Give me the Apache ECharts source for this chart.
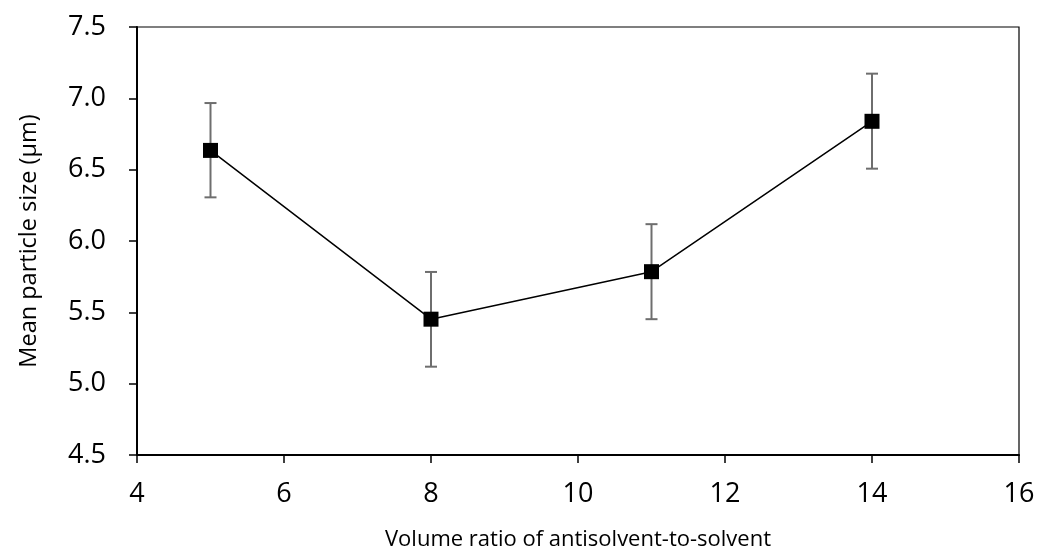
<!DOCTYPE html>
<html><head><meta charset="utf-8">
<script src="https://cdn.jsdelivr.net/npm/echarts@6/dist/echarts.min.js"></script>
<style>html,body{margin:0;padding:0;background:#fff}#c{width:1038px;height:555px}</style>
</head><body><div id="c"></div>
<script>
const ratios = [5, 8, 11, 14];
const meanSize = [6.635, 5.452, 5.785, 6.839];
const errLow = [6.306, 5.119, 5.452, 6.507];
const errHigh = [6.967, 5.783, 6.118, 7.173];
const xTitle = 'Volume ratio of antisolvent-to-solvent';
const yTitle = 'Mean particle size (μm)';

const font = 'Open Sans, Liberation Sans, sans-serif';
const chart = echarts.init(document.getElementById('c'), null, {renderer: 'canvas'});
chart.setOption({
  animation: false,
  backgroundColor: '#fff',
  grid: {left: 137, right: 19, top: 27, bottom: 100, show: true, borderColor: '#000', borderWidth: 1.2,
         containLabel: false, outerBoundsMode: 'none'},
  xAxis: {
    type: 'value', min: 4, max: 16, interval: 2,
    name: xTitle, nameLocation: 'middle', nameGap: 74,
    nameTextStyle: {fontFamily: font, fontSize: 22, color: '#000'},
    axisLine: {show: true, onZero: false, lineStyle: {color: '#000', width: 2}},
    axisTick: {show: true, length: 8, lineStyle: {color: '#000', width: 1.5}},
    axisLabel: {fontFamily: font, fontSize: 27, color: '#000', margin: 26},
    splitLine: {show: false}
  },
  yAxis: {
    type: 'value', min: 4.5, max: 7.5, interval: 0.5,
    name: yTitle, nameLocation: 'middle', nameGap: 96,
    nameTextStyle: {fontFamily: font, fontSize: 23.5, color: '#000'},
    axisLine: {show: true, lineStyle: {color: '#000', width: 2}},
    axisTick: {show: true, length: 8, lineStyle: {color: '#000', width: 1.5}},
    axisLabel: {fontFamily: font, fontSize: 27, color: '#000', margin: 31, formatter: v => v.toFixed(1)},
    splitLine: {show: false}
  },
  series: [
    {
      type: 'custom',
      data: ratios.map((x, i) => [x, errLow[i], errHigh[i]]),
      renderItem: function (params, api) {
        const x = api.value(0);
        const lo = api.coord([x, api.value(1)]);
        const hi = api.coord([x, api.value(2)]);
        const w = 6;
        const style = {stroke: '#6e6e6e', lineWidth: 2, fill: null};
        return {type: 'group', children: [
          {type: 'line', shape: {x1: lo[0], y1: lo[1], x2: hi[0], y2: hi[1]}, style},
          {type: 'line', shape: {x1: lo[0]-w, y1: lo[1], x2: lo[0]+w, y2: lo[1]}, style},
          {type: 'line', shape: {x1: hi[0]-w, y1: hi[1], x2: hi[0]+w, y2: hi[1]}, style}
        ]};
      },
      z: 2
    },
    {
      type: 'line',
      data: ratios.map((x, i) => [x, meanSize[i]]),
      symbol: 'rect', symbolSize: 15,
      itemStyle: {color: '#000'},
      lineStyle: {color: '#000', width: 1.5},
      z: 3
    }
  ]
});
</script></body></html>
